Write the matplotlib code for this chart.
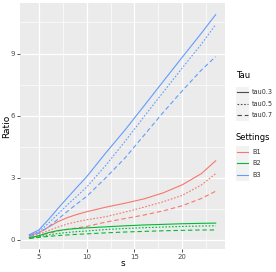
import matplotlib
matplotlib.use('Agg')
import matplotlib.pyplot as plt
from matplotlib.patches import Rectangle

# Data
s = [4, 5, 6, 7, 8, 9, 10, 12, 14, 16, 18, 20, 22, 23.5]

b1_tau03 = [0.2, 0.35, 0.62, 0.88, 1.08, 1.23, 1.36, 1.58, 1.77, 1.98, 2.27, 2.66, 3.2, 3.82]
b1_tau05 = [0.15, 0.27, 0.45, 0.62, 0.77, 0.88, 0.97, 1.12, 1.34, 1.58, 1.84, 2.15, 2.65, 3.2]
b1_tau07 = [0.12, 0.2, 0.32, 0.43, 0.51, 0.58, 0.65, 0.86, 1.03, 1.2, 1.4, 1.65, 2.0, 2.35]

b2_tau03 = [0.1, 0.2, 0.35, 0.45, 0.51, 0.55, 0.58, 0.63, 0.68, 0.72, 0.75, 0.78, 0.8, 0.81]
b2_tau05 = [0.08, 0.15, 0.24, 0.31, 0.36, 0.4, 0.43, 0.5, 0.55, 0.59, 0.62, 0.65, 0.67, 0.68]
b2_tau07 = [0.07, 0.12, 0.17, 0.21, 0.24, 0.27, 0.29, 0.34, 0.38, 0.41, 0.44, 0.46, 0.48, 0.48]

b3_tau03 = [0.25, 0.48, 0.98, 1.52, 2.04, 2.55, 3.05, 4.2, 5.3, 6.47, 7.65, 8.82, 9.98, 10.88]
b3_tau05 = [0.22, 0.4, 0.8, 1.25, 1.7, 2.12, 2.55, 3.6, 4.75, 5.95, 7.13, 8.3, 9.45, 10.4]
b3_tau07 = [0.2, 0.32, 0.62, 1.0, 1.38, 1.75, 2.1, 3.0, 3.95, 5.05, 6.15, 7.2, 8.2, 8.85]

settings = ['B1', 'B2', 'B3']
taus = ['tau0.3', 'tau0.5', 'tau0.7']
colors = {'B1': '#F8766D', 'B2': '#00BA38', 'B3': '#619CFF'}
styles = {'tau0.3': '-', 'tau0.5': (0, (1.5, 1.5)), 'tau0.7': (0, (4, 2.5))}

series = {
    ('B1', 'tau0.3'): b1_tau03, ('B1', 'tau0.5'): b1_tau05, ('B1', 'tau0.7'): b1_tau07,
    ('B2', 'tau0.3'): b2_tau03, ('B2', 'tau0.5'): b2_tau05, ('B2', 'tau0.7'): b2_tau07,
    ('B3', 'tau0.3'): b3_tau03, ('B3', 'tau0.5'): b3_tau05, ('B3', 'tau0.7'): b3_tau07,
}

W, H = 276, 272
fig = plt.figure(figsize=(W / 100, H / 100), dpi=100)
ax = fig.add_axes([20 / W, 1 - 249 / H, 205 / W, 246 / H])
ax.set_facecolor('#EBEBEB')

for (st, tau), vals in series.items():
    ax.plot(s, vals, color=colors[st], linestyle=styles[tau], linewidth=0.8, zorder=3)

ax.set_xlim(3.025, 24.475)
ax.set_ylim(-0.44, 11.44)
ax.set_xticks([5, 10, 15, 20])
ax.set_yticks([0, 3, 6, 9])
ax.set_xticks([7.5, 12.5, 17.5, 22.5], minor=True)
ax.set_yticks([1.5, 4.5, 7.5, 10.5], minor=True)
ax.grid(which='major', color='white', linewidth=0.9)
ax.grid(which='minor', color='white', linewidth=0.45)
ax.set_axisbelow(True)
for sp in ax.spines.values():
    sp.set_visible(False)
ax.tick_params(which='major', length=2, width=0.6, color='#333333',
               labelsize=5, labelcolor='#4D4D4D', pad=1.5)
ax.tick_params(which='minor', length=0)
ax.set_xlabel('s', fontsize=6.5, va='center')
ax.set_ylabel('Ratio', fontsize=6.5, va='center')
ax.xaxis.set_label_coords(0.5, (249 - 263) / 246)
ax.yaxis.set_label_coords((7 - 20) / 205, 0.5)

# Legends drawn in pixel coordinates
lg = fig.add_axes([0, 0, 1, 1])
lg.set_xlim(0, W)
lg.set_ylim(H, 0)
lg.axis('off')
lg.patch.set_alpha(0)

lg.text(236, 76, 'Tau', fontsize=6, va='center', ha='left')
for i, tau in enumerate(taus):
    y0 = 86.5 + i * 11.5
    lg.add_patch(Rectangle((236, y0), 12.5, 11.5, facecolor='#F2F2F2', edgecolor='none'))
    lg.plot([237, 247.5], [y0 + 5.75] * 2, color='#4D4D4D', linestyle=styles[tau], linewidth=0.8)
    lg.text(252, y0 + 5.75, tau, fontsize=4.7, va='center', ha='left', color='#333333')

lg.text(236, 138, 'Settings', fontsize=6, va='center', ha='left')
for i, st in enumerate(settings):
    y0 = 146 + i * 11.5
    lg.add_patch(Rectangle((236, y0), 12.5, 11.5, facecolor='#F2F2F2', edgecolor='none'))
    lg.plot([237, 247.5], [y0 + 5.75] * 2, color=colors[st], linewidth=0.8)
    lg.text(252, y0 + 5.75, st, fontsize=4.7, va='center', ha='left', color='#333333')

fig.savefig('out.png', dpi=100)
